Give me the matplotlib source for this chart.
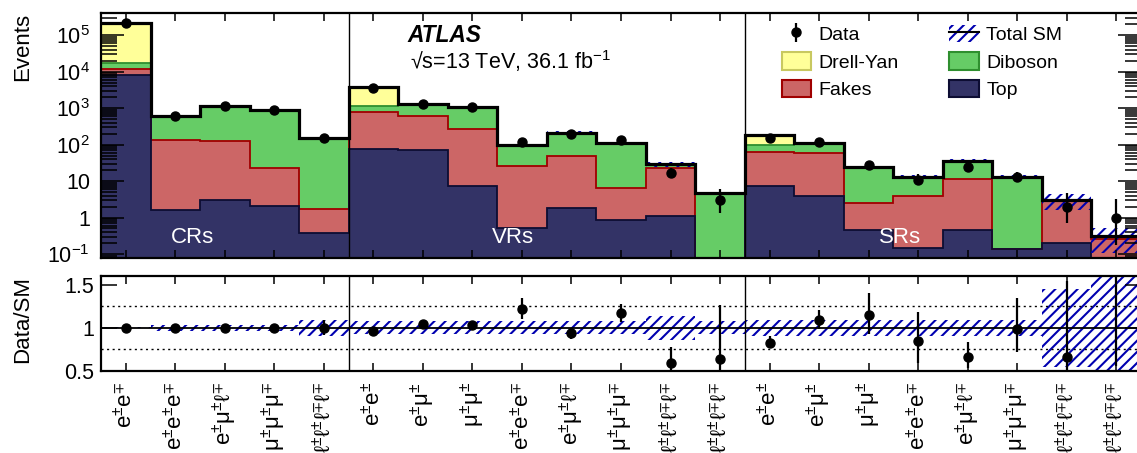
import math
import numpy as np
import matplotlib
matplotlib.use("Agg")
import matplotlib.pyplot as plt
from matplotlib.patches import Patch
from matplotlib.lines import Line2D
from matplotlib.ticker import LogLocator, NullFormatter, NullLocator

plt.rcParams['font.family'] = ['Liberation Sans', 'DejaVu Sans']
plt.rcParams['mathtext.fontset'] = 'custom'
plt.rcParams['mathtext.rm'] = 'Liberation Sans'
plt.rcParams['mathtext.it'] = 'Liberation Sans:italic'
plt.rcParams['mathtext.bf'] = 'Liberation Sans:bold'
plt.rcParams['mathtext.sf'] = 'Liberation Sans'
plt.rcParams['hatch.linewidth'] = 1.5

# ---------------- data ----------------
region_names = ["CRs", "VRs", "SRs"]
bin_labels = [
    r"$\mathregular{e^{\pm}e^{\mp}}$",
    r"$\mathregular{e^{\pm}e^{\pm}e^{\mp}}$",
    r"$\mathregular{e^{\pm}\mu^{\pm}\ell^{\mp}}$",
    r"$\mathregular{\mu^{\pm}\mu^{\pm}\mu^{\mp}}$",
    r"$\mathregular{\ell^{\pm}\ell^{\pm}\ell^{\mp}\ell^{\mp}}$",
    r"$\mathregular{e^{\pm}e^{\pm}}$",
    r"$\mathregular{e^{\pm}\mu^{\pm}}$",
    r"$\mathregular{\mu^{\pm}\mu^{\pm}}$",
    r"$\mathregular{e^{\pm}e^{\pm}e^{\mp}}$",
    r"$\mathregular{e^{\pm}\mu^{\pm}\ell^{\mp}}$",
    r"$\mathregular{\mu^{\pm}\mu^{\pm}\mu^{\mp}}$",
    r"$\mathregular{\ell^{\pm}\ell^{\pm}\ell^{\mp}\ell^{\mp}}$",
    r"$\mathregular{\ell^{\pm}\ell^{\pm}\ell^{\mp}\ell^{\mp}}$",
    r"$\mathregular{e^{\pm}e^{\pm}}$",
    r"$\mathregular{e^{\pm}\mu^{\pm}}$",
    r"$\mathregular{\mu^{\pm}\mu^{\pm}}$",
    r"$\mathregular{e^{\pm}e^{\pm}e^{\mp}}$",
    r"$\mathregular{e^{\pm}\mu^{\pm}\ell^{\mp}}$",
    r"$\mathregular{\mu^{\pm}\mu^{\pm}\mu^{\mp}}$",
    r"$\mathregular{\ell^{\pm}\ell^{\pm}\ell^{\mp}\ell^{\mp}}$",
    r"$\mathregular{\ell^{\pm}\ell^{\pm}\ell^{\mp}\ell^{\mp}}$",
]
data_counts = [220000, 600, 1140, 880, 150,
               3613, 1321, 1100, 117, 200, 132, 17, 3,
               150, 119, 28, 11, 24, 13, 2, 1]
top_vals = [8200, 1.6, 3.1, 2.1, 0.385,
            74, 72, 7.2, 0.53, 1.82, 0.86, 1.07, 0,
            7.5, 3.8, 0.46, 0.15, 0.46, 0.134, 0.2, 0]
fakes_vals = [3800, 132, 123, 21, 1.35,
              691, 545, 258, 25.1, 46, 5.64, 21.9, 0,
              55.5, 53.9, 2.04, 3.65, 11.24, 0, 2.75, 0.26]
diboson_vals = [5000, 466, 1014, 857, 148,
                405, 653, 795, 70.4, 166, 106.5, 5.6, 4.7,
                35, 51.3, 21.9, 9.2, 24.3, 13.07, 0.05, 0.05]
drellyan_vals = [203000, 0, 0, 0, 0,
                 2570, 0, 0, 0, 0, 0, 0, 0,
                 83, 0, 0, 0, 0, 0, 0, 0]
syst_rel = [0.005, 0.035, 0.035, 0.035, 0.09,
            0.075, 0.075, 0.075, 0.075, 0.075, 0.075, 0.14, 0.075,
            0.096, 0.096, 0.096, 0.096, 0.096, 0.096, 0.45, 0.65]
region_bounds = [5, 13]
ytick_vals = [0.1, 1, 10, 100, 1e3, 1e4, 1e5]
ytick_labels = [r"$\mathregular{10^{-1}}$", "1", "10", r"$\mathregular{10^{2}}$",
                r"$\mathregular{10^{3}}$", r"$\mathregular{10^{4}}$", r"$\mathregular{10^{5}}$"]
rtick_vals = [0.5, 1, 1.5]
rtick_labels = ["0.5", "1", "1.5"]

# ---------------- helpers ----------------
def pois_cdf(n, mu):
    if n < 0:
        return 0.0
    s = 0.0
    for k in range(n + 1):
        s += math.exp(-mu + k * math.log(mu) - math.lgamma(k + 1)) if mu > 0 else (1.0 if k == 0 else 0.0)
    return s

def garwood(n):
    a = 0.158655
    if n > 150:
        return n - math.sqrt(n), n + math.sqrt(n)
    lo_b, hi_b = float(n), n + 10 * math.sqrt(n + 1) + 10
    for _ in range(80):
        m = 0.5 * (lo_b + hi_b)
        if pois_cdf(n, m) > a:
            lo_b = m
        else:
            hi_b = m
    up = 0.5 * (lo_b + hi_b)
    if n == 0:
        return 0.0, up
    lo_b, hi_b = 1e-9, float(n)
    for _ in range(80):
        m = 0.5 * (lo_b + hi_b)
        if pois_cdf(n - 1, m) > 1 - a:
            lo_b = m
        else:
            hi_b = m
    return 0.5 * (lo_b + hi_b), up

nb = len(data_counts)
edges = np.arange(nb + 1)
centers = edges[:-1] + 0.5
data = np.array(data_counts, float)
comps = [np.array(top_vals, float), np.array(fakes_vals, float),
         np.array(diboson_vals, float), np.array(drellyan_vals, float)]
total = sum(comps)
rel = np.array(syst_rel)
ints = [garwood(int(n)) for n in data_counts]
lo = np.array([data[i] - ints[i][0] for i in range(nb)])
hi = np.array([ints[i][1] - data[i] for i in range(nb)])

fills = ["#333366", "#cc6666", "#66cc66", "#ffff99"]
lines = ["#0d0d33", "#a00000", "#2f8f2f", "#c8c860"]
hatch_col = "#0000b0"
HATCH = "///"

# ---------------- figure ----------------
W, H = 1137, 453
fig = plt.figure(figsize=(W / 100, H / 100), dpi=100)
ax1 = fig.add_axes([101 / W, (H - 257.7) / H, 1040 / W, 244.7 / H])
ax2 = fig.add_axes([101 / W, (H - 371) / H, 1040 / W, 95 / H])

floor = 1e-4
cum = [np.full(nb, floor)]
for c in comps:
    cum.append(np.maximum(cum[-1] + c, floor))
for k in range(4):
    ax1.stairs(cum[k + 1], edges, baseline=cum[k], fill=True, color=fills[k], lw=0, zorder=1)
for k in [3, 2, 1, 0]:
    ax1.stairs(cum[k + 1], edges, baseline=None, color=lines[k], lw=1.3, zorder=1.05)

ax1.stairs(total * (1 + rel), edges, baseline=total * (1 - rel), fill=True,
           facecolor="none", edgecolor=hatch_col, hatch=HATCH, lw=0, zorder=1.1)
ax1.stairs(total, edges, baseline=None, color="black", lw=2.3, zorder=1.2)

eb = ax1.errorbar(centers, data, yerr=[lo, hi], fmt="o", color="black", ms=6.5,
                  elinewidth=1.6, capsize=0, zorder=3)

for b in region_bounds:
    ax1.axvline(b, color="black", lw=1.0, zorder=2.5)
    ax2.axvline(b, color="black", lw=1.0, zorder=2.5)

ax1.set_yscale("log")
ax1.set_xlim(0, nb)
ax1.set_ylim(0.079, 4.1e5)
ax1.set_yticks(ytick_vals)
ax1.set_yticklabels(ytick_labels)
ax1.yaxis.set_minor_locator(LogLocator(base=10, subs=np.arange(2, 10), numticks=30))
ax1.yaxis.set_minor_formatter(NullFormatter())
ax1.set_xticks(centers)
ax1.tick_params(axis="y", which="major", direction="in", length=16.5, width=1.1,
                left=True, right=True, labelsize=15.5, pad=8)
ax1.tick_params(axis="y", which="minor", direction="in", length=11.5, width=1.1,
                left=True, right=True)
ax1.tick_params(axis="x", which="major", direction="in", length=5.5, width=1.1,
                top=True, bottom=True, labelbottom=False)
for s in ax1.spines.values():
    s.set_linewidth(1.6)
ax1.set_ylabel("Events", loc="top", fontsize=16)
ax1.yaxis.set_label_coords(-0.0657, 1.0)

ax1.text(0.295, 0.880, "ATLAS", transform=ax1.transAxes, fontsize=16.4,
         fontweight="bold", fontstyle="italic", va="baseline", ha="left")
ax1.text(0.297, 0.772, "√s=13 TeV, 36.1 fb$^{\\mathregular{-1}}$", transform=ax1.transAxes,
         fontsize=15.5, va="baseline", ha="left")
for name, xf in zip(region_names, [0.0875, 0.396, 0.768]):
    ax1.text(xf, 0.06, name, transform=ax1.transAxes, color="white", fontsize=16,
             ha="center", va="baseline", zorder=4)

h_dy = Patch(facecolor=fills[3], edgecolor=lines[3], lw=1.5)
h_fk = Patch(facecolor=fills[1], edgecolor=lines[1], lw=1.5)
h_db = Patch(facecolor=fills[2], edgecolor=lines[2], lw=1.5)
h_tp = Patch(facecolor=fills[0], edgecolor=lines[0], lw=1.5)
h_sm = (Patch(facecolor="none", edgecolor=hatch_col, hatch=HATCH, lw=0),
        Line2D([], [], color="black", lw=1.5))
leg = ax1.legend([eb, h_dy, h_fk, h_sm, h_db, h_tp],
                 ["Data", "Drell-Yan", "Fakes", "Total SM", "Diboson", "Top"],
                 ncol=2, loc="upper left", bbox_to_anchor=(0.6545, 0.952),
                 frameon=False, fontsize=14.0, handlelength=1.5, handleheight=1.0,
                 handletextpad=0.4, labelspacing=0.42, columnspacing=2.6,
                 borderpad=0, borderaxespad=0)

ratio = data / total
rlo = lo / total
rhi = hi / total
ax2.stairs(1 + rel, edges, baseline=1 - rel, fill=True, facecolor="none",
           edgecolor=hatch_col, hatch=HATCH, lw=0, zorder=1.1)
ax2.axhline(1, color="black", lw=1.3, zorder=1.2)
for yv in [0.75, 1.25]:
    ax2.axhline(yv, color="black", lw=1.0, ls=(0, (1.5, 2.5)), zorder=1.2)
ax2.errorbar(centers, ratio, yerr=[rlo, rhi], fmt="o", color="black", ms=6.5,
             elinewidth=1.6, capsize=0, zorder=3)
ax2.set_xlim(0, nb)
ax2.set_ylim(0.5, 1.6)
ax2.set_yticks(rtick_vals)
ax2.set_yticklabels(rtick_labels)
ax2.yaxis.set_minor_locator(NullLocator())
ax2.set_xticks(centers)
ax2.set_xticklabels(bin_labels, rotation=90, fontsize=16)
ax2.tick_params(axis="y", which="major", direction="in", length=11.5, width=1.1,
                left=True, right=True, labelsize=15.5, pad=5)
ax2.tick_params(axis="x", which="major", direction="in", length=5.5, width=1.1,
                top=True, bottom=True, pad=8)
for s in ax2.spines.values():
    s.set_linewidth(1.6)
ax2.set_ylabel("Data/SM", loc="top", fontsize=16)
ax2.yaxis.set_label_coords(-0.0657, 1.0)

fig.savefig("out.png", dpi=100)
